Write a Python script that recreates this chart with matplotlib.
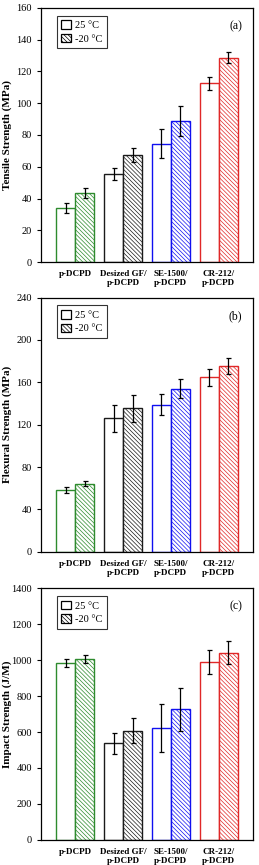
import numpy as np
import matplotlib
matplotlib.use("Agg")
import matplotlib.pyplot as plt
from matplotlib.patches import Patch

plt.rcParams['font.family'] = ['Liberation Serif', 'DejaVu Serif']
plt.rcParams['hatch.linewidth'] = 0.5

groups = ['p-DCPD', 'Desized GF/\np-DCPD', 'SE-1500/\np-DCPD', 'CR-212/\np-DCPD']
colors = ['#2e8b2e', '#1a1a1a', '#1010f0', '#e02828']

tensile_25 = [34, 55.5, 74.5, 112.5]
tensile_25_err = [3, 4, 9, 4]
tensile_m20 = [43.5, 67.5, 89, 128.5]
tensile_m20_err = [3, 4.5, 9.5, 3.5]

flexural_25 = [58.5, 126, 139, 165]
flexural_25_err = [2.5, 13, 10, 8]
flexural_m20 = [64.5, 135.5, 154, 175.5]
flexural_m20_err = [2.5, 12.5, 9, 7.5]

impact_25 = [983, 537, 622, 990]
impact_25_err = [22, 60, 132, 68]
impact_m20 = [1005, 608, 727, 1042]
impact_m20_err = [22, 70, 120, 62]

panels = [
    (tensile_25, tensile_25_err, tensile_m20, tensile_m20_err, 'Tensile Strength (MPa)', 160, 20, '(a)'),
    (flexural_25, flexural_25_err, flexural_m20, flexural_m20_err, 'Flexural Strength (MPa)', 240, 40, '(b)'),
    (impact_25, impact_25_err, impact_m20, impact_m20_err, 'Impact Strength (J/M)', 1400, 200, '(c)'),
]
# axes boxes in figure fraction: [left, bottom, width, height]
boxes = [
    [0.158, 0.697, 0.819, 0.294],
    [0.158, 0.362, 0.819, 0.294],
    [0.158, 0.029, 0.819, 0.291],
]

fig = plt.figure(figsize=(2.59, 8.65), dpi=100)
x = np.arange(len(groups))
w = 0.4
hatch = '\\\\\\\\\\\\\\\\'

for (v25, e25, vm20, em20, ylab, ymax, ystep, tag), box in zip(panels, boxes):
    ax = fig.add_axes(box)
    for i in range(len(groups)):
        ax.bar(x[i] - w / 2, v25[i], w, color='white', edgecolor=colors[i], linewidth=1.0)
        ax.bar(x[i] + w / 2, vm20[i], w, color='white', edgecolor=colors[i], linewidth=1.0,
               hatch=hatch)
    ax.errorbar(x - w / 2, v25, yerr=e25, fmt='none', ecolor='black', elinewidth=0.9,
                capsize=1.8, capthick=0.9)
    ax.errorbar(x + w / 2, vm20, yerr=em20, fmt='none', ecolor='black', elinewidth=0.9,
                capsize=1.8, capthick=0.9)
    ax.set_xlim(-0.72, 3.72)
    ax.set_ylim(0, ymax)
    ax.set_yticks(np.arange(0, ymax + 1, ystep))
    ax.set_xticks(x)
    ax.set_xticklabels(groups, fontsize=6.5, fontweight='bold', linespacing=1.1)
    ax.tick_params(axis='x', length=0, pad=6)
    ax.tick_params(axis='y', direction='out', length=3, labelsize=7.5, width=0.8)
    ax.set_ylabel(ylab, fontsize=8, fontweight='bold')
    ax.yaxis.set_label_coords(-0.135, 0.5)
    for s in ax.spines.values():
        s.set_linewidth(0.9)
    ax.text(0.95, 0.95, tag, transform=ax.transAxes, ha='right', va='top', fontsize=8.5)
    handles = [Patch(facecolor='white', edgecolor='black', linewidth=0.9),
               Patch(facecolor='white', edgecolor='black', linewidth=0.9, hatch=hatch)]
    leg = ax.legend(handles, ['25 \u00b0C', '-20 \u00b0C'], loc='upper left', fontsize=7.5,
                    frameon=True, fancybox=False, edgecolor='black', handlelength=0.9,
                    handleheight=0.9, handletextpad=0.4, borderpad=0.45, labelspacing=0.35,
                    bbox_to_anchor=(0.05, 0.99))
    leg.get_frame().set_linewidth(0.8)

fig.savefig('out.png', dpi=100)
